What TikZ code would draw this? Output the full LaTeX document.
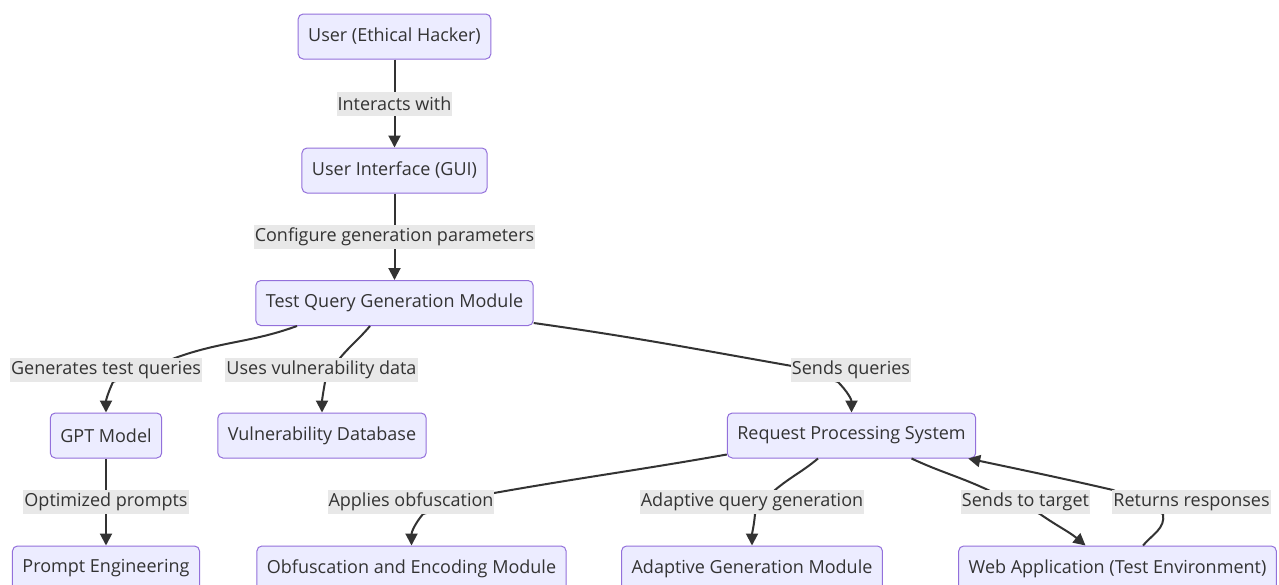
\documentclass[tikz,border=0pt]{standalone}
\usepackage{fontspec}
\setmainfont{Open Sans}
\usepackage{tikz}
\usetikzlibrary{arrows.meta}
\definecolor{mmfill}{HTML}{ECECFF}
\definecolor{mmborder}{HTML}{9370DB}
\definecolor{mmline}{HTML}{333333}
\definecolor{mmlabel}{HTML}{E8E8E8}

\begin{document}
\begin{tikzpicture}
[
x=1pt,y=1pt,
font=\fontsize{18}{21}\selectfont,
block/.style={draw=mmborder,fill=mmfill,rounded corners=5pt,line width=1pt,minimum height=45pt,inner xsep=10pt,text=mmline},
elabel/.style={fill=mmlabel,inner xsep=1pt,inner ysep=0pt,minimum height=24pt,text=mmline},
arr/.style={draw=mmline,line width=2pt,-{Triangle[length=12pt,width=12pt]}},
]
\fill[white] (0,0) rectangle (1279,-584);
\useasboundingbox (0,0) rectangle (1279,-584);
\clip (0,0) rectangle (1279,-584);

%Place the nodes
\node[block] (user) at (394.5,-36.5) {User (Ethical Hacker)};
\node[block] (ui) at (394.5,-170.5) {User Interface (GUI)};
\node[block] (tq) at (394.5,-303) {Test Query Generation Module};
\node[block] (gpt) at (106,-435.5) {GPT Model};
\node[block] (vdb) at (322,-435.5) {Vulnerability Database};
\node[block] (rps) at (851.5,-435.5) {Request Processing System};
\node[block] (pe) at (106,-568.5) {Prompt Engineering};
\node[block] (obf) at (411.5,-568.5) {Obfuscation and Encoding Module};
\node[block] (agm) at (752,-568.5) {Adaptive Generation Module};
\node[block] (web) at (1117.5,-568.5) {Web Application (Test Environment)};

%Draw the connections
\draw[arr] (user) -- (ui);
\draw[arr] (ui) -- (tq);
\draw[arr] ([xshift=-97.5pt]tq.south) to[out=200,in=20] (175,-358) -- (113,-382) to[out=-115,in=90] (gpt.north);
\draw[arr] ([xshift=-24.5pt]tq.south) to[out=-130,in=50] (340,-358) -- (325,-382) to[out=-100,in=90] (vdb.north);
\draw[arr] ([yshift=3pt]tq.south east) to[out=-8,in=170] (792,-366) -- (838,-382) to[out=-45,in=90] (rps.north);
\draw[arr] (gpt) -- (pe);
\draw[arr] ([yshift=4pt]rps.south west) to[out=190,in=10] (494,-493) -- (423,-514) to[out=-130,in=90] (obf.north);
\draw[arr] ([xshift=-33.5pt]rps.south) to[out=-140,in=40] (775,-490) -- (755,-514) to[out=-95,in=90] (agm.north);
\draw[arr] ([xshift=60pt]rps.south) to[out=-25,in=155] (988,-490) -- (1040,-514) to[out=-35,in=140] ([xshift=-32pt]web.north);
\draw[arr] ([xshift=25.5pt]web.north) to[out=50,in=-80] (1163,-514) -- (1113,-490) to[out=167,in=-12] ([xshift=-8pt]rps.south east);

%Edge labels
\node[elabel] (l1) at (394.5,-104) {Interacts with};
\node[elabel] (l2) at (394.5,-237) {Configure generation parameters};
\node[elabel] (l3) at (106,-370) {Generates test queries};
\node[elabel] (l4) at (321.5,-370) {Uses vulnerability data};
\node[elabel] (l5) at (851,-370) {Sends queries};
\node[elabel] (l6) at (106,-502) {Optimized prompts};
\node[elabel] (l7) at (411,-502) {Applies obfuscation};
\node[elabel] (l8) at (752,-502) {Adaptive query generation};
\node[elabel] (l9) at (1025.5,-502) {Sends to target};
\node[elabel] (l10) at (1191.5,-502) {Returns responses};
\end{tikzpicture}
\end{document}
